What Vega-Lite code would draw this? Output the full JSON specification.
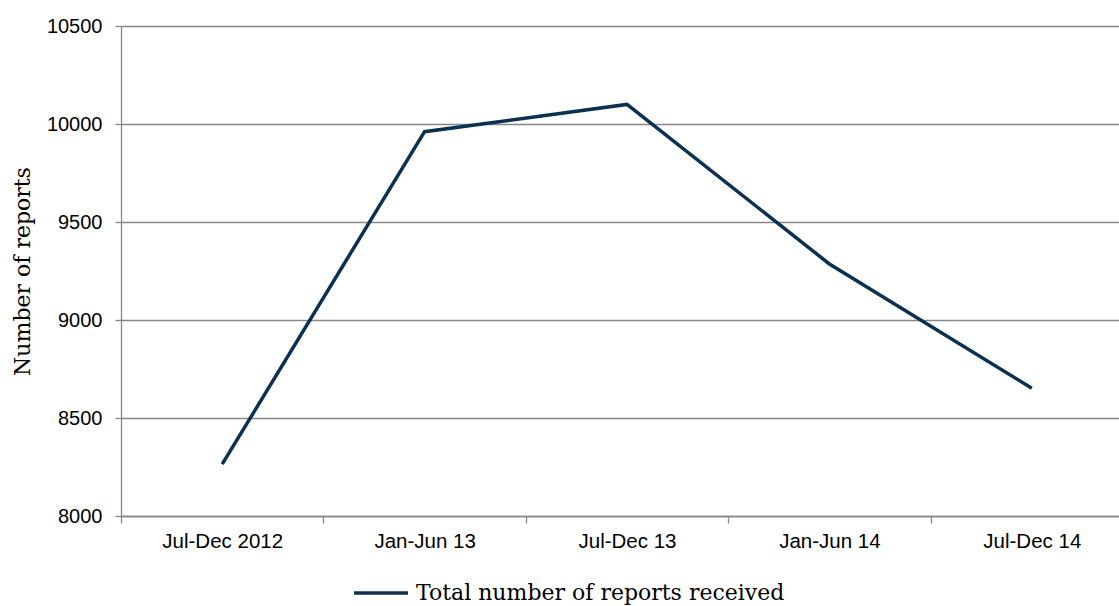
{
  "$schema": "https://vega.github.io/schema/vega-lite/v6.json",
  "autosize": {"type": "none"},
  "width": 998,
  "height": 490,
  "padding": {"left": 121, "top": 26, "right": 0, "bottom": 90},
  "background": "white",
  "data": {
    "values": [
      {"period": "Jul-Dec 2012", "reports": 8265, "series": "Total number of reports received"},
      {"period": "Jan-Jun 13", "reports": 9961, "series": "Total number of reports received"},
      {"period": "Jul-Dec 13", "reports": 10100, "series": "Total number of reports received"},
      {"period": "Jan-Jun 14", "reports": 9286, "series": "Total number of reports received"},
      {"period": "Jul-Dec 14", "reports": 8652, "series": "Total number of reports received"}
    ]
  },
  "mark": {"type": "line", "strokeWidth": 3.5, "strokeCap": "butt", "strokeJoin": "miter"},
  "encoding": {
    "x": {
      "field": "period",
      "type": "nominal",
      "sort": null,
      "scale": {"range": [0, 1012], "paddingInner": 0, "paddingOuter": 0},
      "axis": {
        "title": null,
        "labelAngle": 0,
        "tickBand": "extent",
        "grid": false,
        "domainColor": "#878787",
        "domainWidth": 1.3,
        "tickColor": "#878787",
        "tickWidth": 1.3,
        "tickSize": 7,
        "labelFont": "Liberation Sans",
        "labelFontSize": 20.5,
        "labelColor": "#000000",
        "labelPadding": 8
      }
    },
    "y": {
      "field": "reports",
      "type": "quantitative",
      "scale": {"domain": [8000, 10500], "zero": false, "nice": false},
      "axis": {
        "title": "Number of reports",
        "titleFont": "DejaVu Serif",
        "titleFontSize": 22,
        "titleFontWeight": "normal",
        "titleColor": "#000000",
        "titlePadding": 12,
        "values": [8000, 8500, 9000, 9500, 10000, 10500],
        "format": "d",
        "grid": true,
        "gridColor": "#878787",
        "gridWidth": 1.3,
        "domainColor": "#878787",
        "domainWidth": 1.3,
        "tickColor": "#878787",
        "tickWidth": 1.3,
        "tickSize": 6,
        "labelFont": "Liberation Sans",
        "labelFontSize": 20,
        "labelColor": "#000000",
        "labelPadding": 13
      }
    },
    "color": {
      "field": "series",
      "type": "nominal",
      "scale": {"range": ["#0c3150"]},
      "legend": {
        "title": null,
        "orient": "none",
        "legendX": 231,
        "legendY": 538,
        "padding": 0,
        "symbolType": "stroke",
        "symbolSize": 2916,
        "symbolStrokeWidth": 3.5,
        "symbolStrokeColor": "#0c3150",
        "labelFont": "DejaVu Serif",
        "labelFontSize": 22,
        "labelColor": "#000000",
        "labelOffset": 6,
        "labelLimit": 600
      }
    }
  },
  "config": {"view": {"stroke": null}}
}
